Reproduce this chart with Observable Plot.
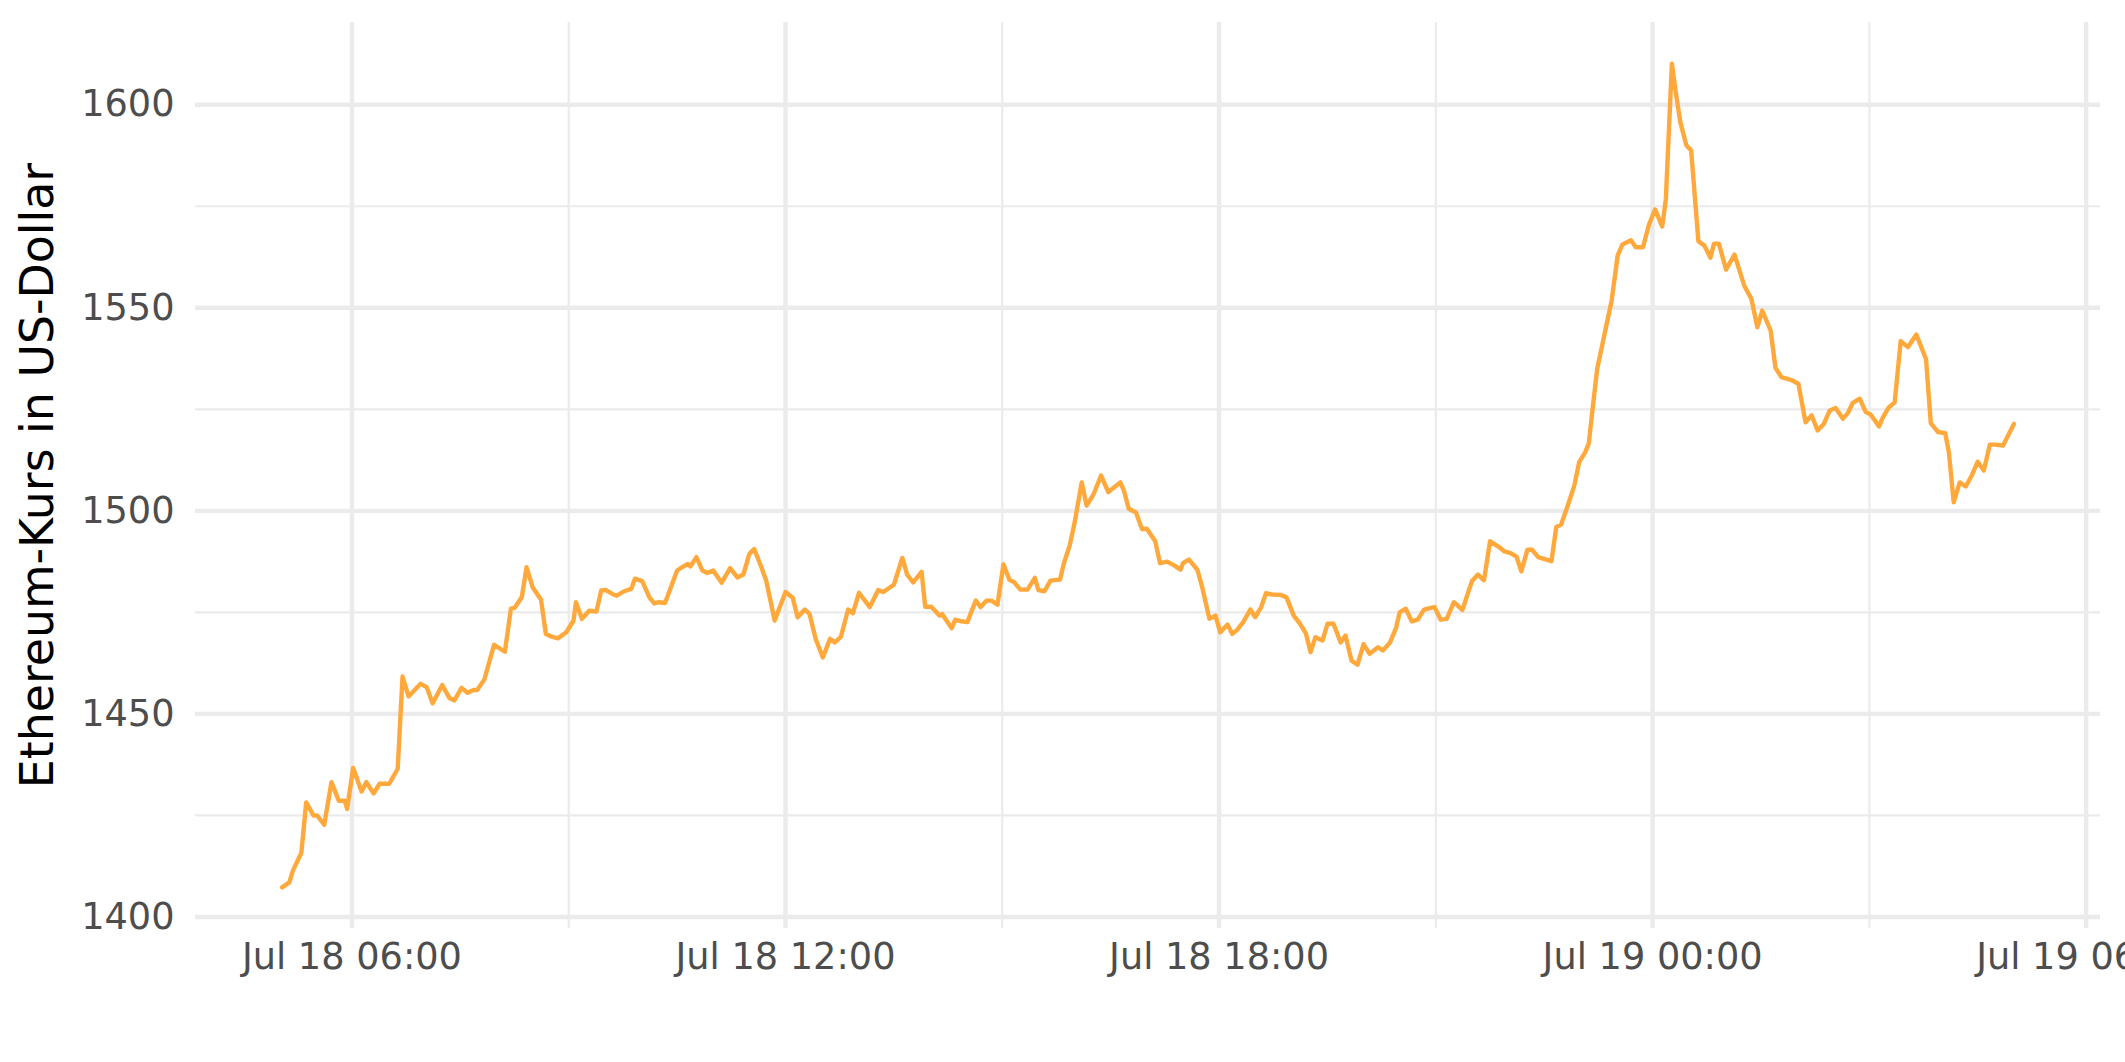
<!DOCTYPE html>
<html>
<head>
<meta charset="utf-8">
<script src="https://cdn.jsdelivr.net/npm/d3@7"></script>
<script src="https://cdn.jsdelivr.net/npm/@observablehq/plot@0.6"></script>
<style>
  html, body { margin: 0; padding: 0; background: #ffffff; }
  svg { display: block; }
</style>
</head>
<body>
<div id="chart"></div>
<script>
// Series start (UTC) and minutes after it for each observation
const startTime = "2022-07-18T05:00:00Z";
const minutes = [
  2,8,11,18,22,28,31,37,43,49,
  54,56,61,68,72,78,83,91,98,102,
  107,117,122,127,135,141,145,151,156,161,
  164,170,178,187,192,195,201,205,210,217,
  221,226,231,238,244,246,251,257,263,267,
  271,277,280,286,292,295,301,307,311,315,
  320,330,334,339,341,346,351,355,360,367,
  374,380,385,390,394,400,404,411,420,426,
  430,436,440,445,451,457,461,466,472,476,
  481,490,497,501,506,510,517,521,526,533,
  536,541,548,550,558,561,566,571,578,582,
  587,591,596,601,606,610,615,621,627,630,
  635,640,648,651,656,660,666,670,676,682,
  688,693,698,701,705,711,716,720,727,731,
  737,743,748,750,755,762,766,772,777,781,
  787,791,795,800,806,810,815,819,824,831,
  836,842,847,852,856,860,866,870,875,881,
  885,890,895,900,905,912,916,922,927,930,
  935,940,945,950,954,959,964,969,975,982,
  990,995,1000,1005,1012,1017,1022,1027,1031,1036,
  1040,1045,1056,1060,1064,1070,1075,1079,1084,1087,
  1090,1094,1106,1111,1115,1122,1126,1132,1137,1142,
  1148,1151,1156,1159,1163,1168,1172,1178,1183,1188,
  1191,1195,1201,1208,1216,1222,1227,1231,1238,1242,
  1247,1256,1261,1267,1272,1277,1282,1287,1292,1298,
  1302,1306,1312,1317,1321,1328,1331,1336,1341,1346,
  1352,1359,1367,1371,1377,1383,1386,1390,1395,1400,
  1405,1410,1415,1420,1424,1431,1440
];
// Ethereum price in US dollars
const price = [
  1407.3,1408.5,1411.4,1415.8,1428.2,1425.0,1425.0,1422.7,1433.2,1428.6,
  1428.6,1426.6,1436.7,1430.9,1433.2,1430.4,1432.8,1432.8,1436.5,1459.2,
  1454.3,1457.4,1456.6,1452.6,1457.1,1453.9,1453.3,1456.4,1455.2,1455.9,
  1455.9,1458.5,1467.0,1465.3,1475.9,1476.1,1478.7,1486.1,1481.2,1478.1,
  1469.7,1469.0,1468.6,1470.1,1473.0,1477.5,1473.4,1475.4,1475.2,1480.4,
  1480.5,1479.4,1479.1,1480.2,1480.8,1483.3,1482.7,1478.7,1477.2,1477.5,
  1477.3,1485.3,1486.1,1486.9,1486.3,1488.6,1485.3,1484.7,1485.3,1482.3,
  1485.9,1483.6,1484.3,1489.4,1490.6,1486.1,1482.8,1473.0,1480.0,1478.6,
  1473.8,1475.7,1474.6,1468.5,1463.9,1468.5,1467.6,1469.0,1475.7,1474.8,
  1479.8,1476.3,1480.5,1480.0,1481.0,1481.8,1488.4,1484.3,1482.4,1485.0,
  1476.4,1476.4,1474.2,1474.6,1471.1,1473.2,1472.8,1472.6,1477.9,1476.3,
  1477.9,1477.9,1476.9,1486.8,1483.0,1482.4,1480.6,1480.6,1483.5,1480.5,
  1480.2,1482.8,1483.1,1486.9,1491.5,1497.0,1507.0,1501.3,1504.2,1508.7,
  1504.6,1505.8,1507.0,1505.0,1500.5,1499.6,1495.5,1495.6,1492.5,1487.1,
  1487.5,1486.5,1485.5,1487.1,1488.0,1485.5,1481.2,1473.4,1474.2,1470.1,
  1472.0,1469.7,1470.7,1472.6,1475.7,1473.8,1476.3,1479.7,1479.4,1479.3,
  1478.7,1474.2,1472.3,1469.9,1465.2,1468.9,1468.1,1472.2,1472.2,1467.6,
  1469.3,1463.1,1462.1,1467.2,1464.8,1466.4,1465.6,1467.6,1471.2,1475.0,
  1475.9,1472.8,1473.2,1475.6,1476.0,1476.3,1473.2,1473.4,1477.5,1475.6,
  1482.7,1484.3,1482.9,1492.5,1491.2,1490.0,1489.6,1488.7,1485.1,1490.4,
  1490.4,1488.6,1487.6,1496.0,1496.6,1501.7,1506.2,1512.0,1514.4,1516.6,
  1524.7,1535.0,1551.8,1562.9,1565.6,1566.6,1564.9,1564.9,1570.5,1574.2,
  1570.0,1576.8,1610.1,1603.5,1595.7,1590.0,1588.7,1566.4,1565.3,1562.3,
  1565.8,1565.8,1559.4,1563.1,1555.5,1552.2,1545.2,1549.3,1544.4,1535.2,
  1532.9,1532.1,1531.3,1521.8,1523.5,1519.8,1521.3,1524.7,1525.3,1522.7,
  1524.0,1526.5,1527.6,1524.3,1523.7,1520.8,1522.9,1525.4,1526.7,1541.8,
  1540.3,1543.4,1537.4,1521.6,1519.4,1519.1,1514.4,1502.1,1507.0,1506.0,
  1508.7,1512.1,1509.9,1516.3,1516.3,1516.1,1521.4
];

const yTicksMajor = [1400, 1450, 1500, 1550, 1600];
const yTicksMinor = [1425, 1475, 1525, 1575];
const xTicksMajor = ["2022-07-18T06:00:00Z", "2022-07-18T12:00:00Z", "2022-07-18T18:00:00Z", "2022-07-19T00:00:00Z", "2022-07-19T06:00:00Z"];
const xTicksMinor = ["2022-07-18T09:00:00Z", "2022-07-18T15:00:00Z", "2022-07-18T21:00:00Z", "2022-07-19T03:00:00Z"];
const yTitle = "Ethereum-Kurs in US-Dollar";
const lineColor = "#FFA83B";

const t0 = new Date(startTime).getTime();
const data = minutes.map((m, i) => ({date: new Date(t0 + m * 60000), price: price[i]}));

// ggplot-style 5% expansion
const expand = ([a, b]) => { const p = (b - a) * 0.05; return [a - p, b + p]; };
const xExt = d3.extent(data, d => +d.date);
const xDom = expand(xExt).map(v => new Date(v));
const yDom = expand(d3.extent(data, d => d.price));

const toDates = arr => arr.map(s => new Date(s));
const gridColor = "#EBEBEB";

const chart = Plot.plot({
  width: 2125,
  height: 1062,
  marginLeft: 195,
  marginRight: 25,
  marginTop: 22,
  marginBottom: 134,
  style: {fontFamily: "'DejaVu Sans', sans-serif", color: "#4D4D4D", background: "#ffffff", overflow: "visible"},
  x: {type: "utc", domain: xDom},
  y: {domain: yDom},
  marks: [
    Plot.gridY(yTicksMinor, {stroke: gridColor, strokeOpacity: 1, strokeWidth: 2.2}),
    Plot.gridX(toDates(xTicksMinor), {stroke: gridColor, strokeOpacity: 1, strokeWidth: 2.2}),
    Plot.gridY(yTicksMajor, {stroke: gridColor, strokeOpacity: 1, strokeWidth: 4.4}),
    Plot.gridX(toDates(xTicksMajor), {stroke: gridColor, strokeOpacity: 1, strokeWidth: 4.4}),
    Plot.axisY(yTicksMajor, {tickSize: 0, tickPadding: 21, fontSize: 36.7, label: null, tickFormat: d => String(d)}),
    Plot.axisX(toDates(xTicksMajor), {tickSize: 0, tickPadding: 14, fontSize: 36.7, label: null, tickFormat: d3.utcFormat("%b %d %H:%M")}),
    Plot.line(data, {x: "date", y: "price", stroke: lineColor, strokeWidth: 4.4}),
    Plot.text([yTitle], {text: d => d, frameAnchor: "left", textAnchor: "middle", lineAnchor: "middle", rotate: -90, dx: -157, fontSize: 45.8, fill: "#000000"})
  ]
});
document.getElementById("chart").appendChild(chart);
</script>
</body>
</html>
